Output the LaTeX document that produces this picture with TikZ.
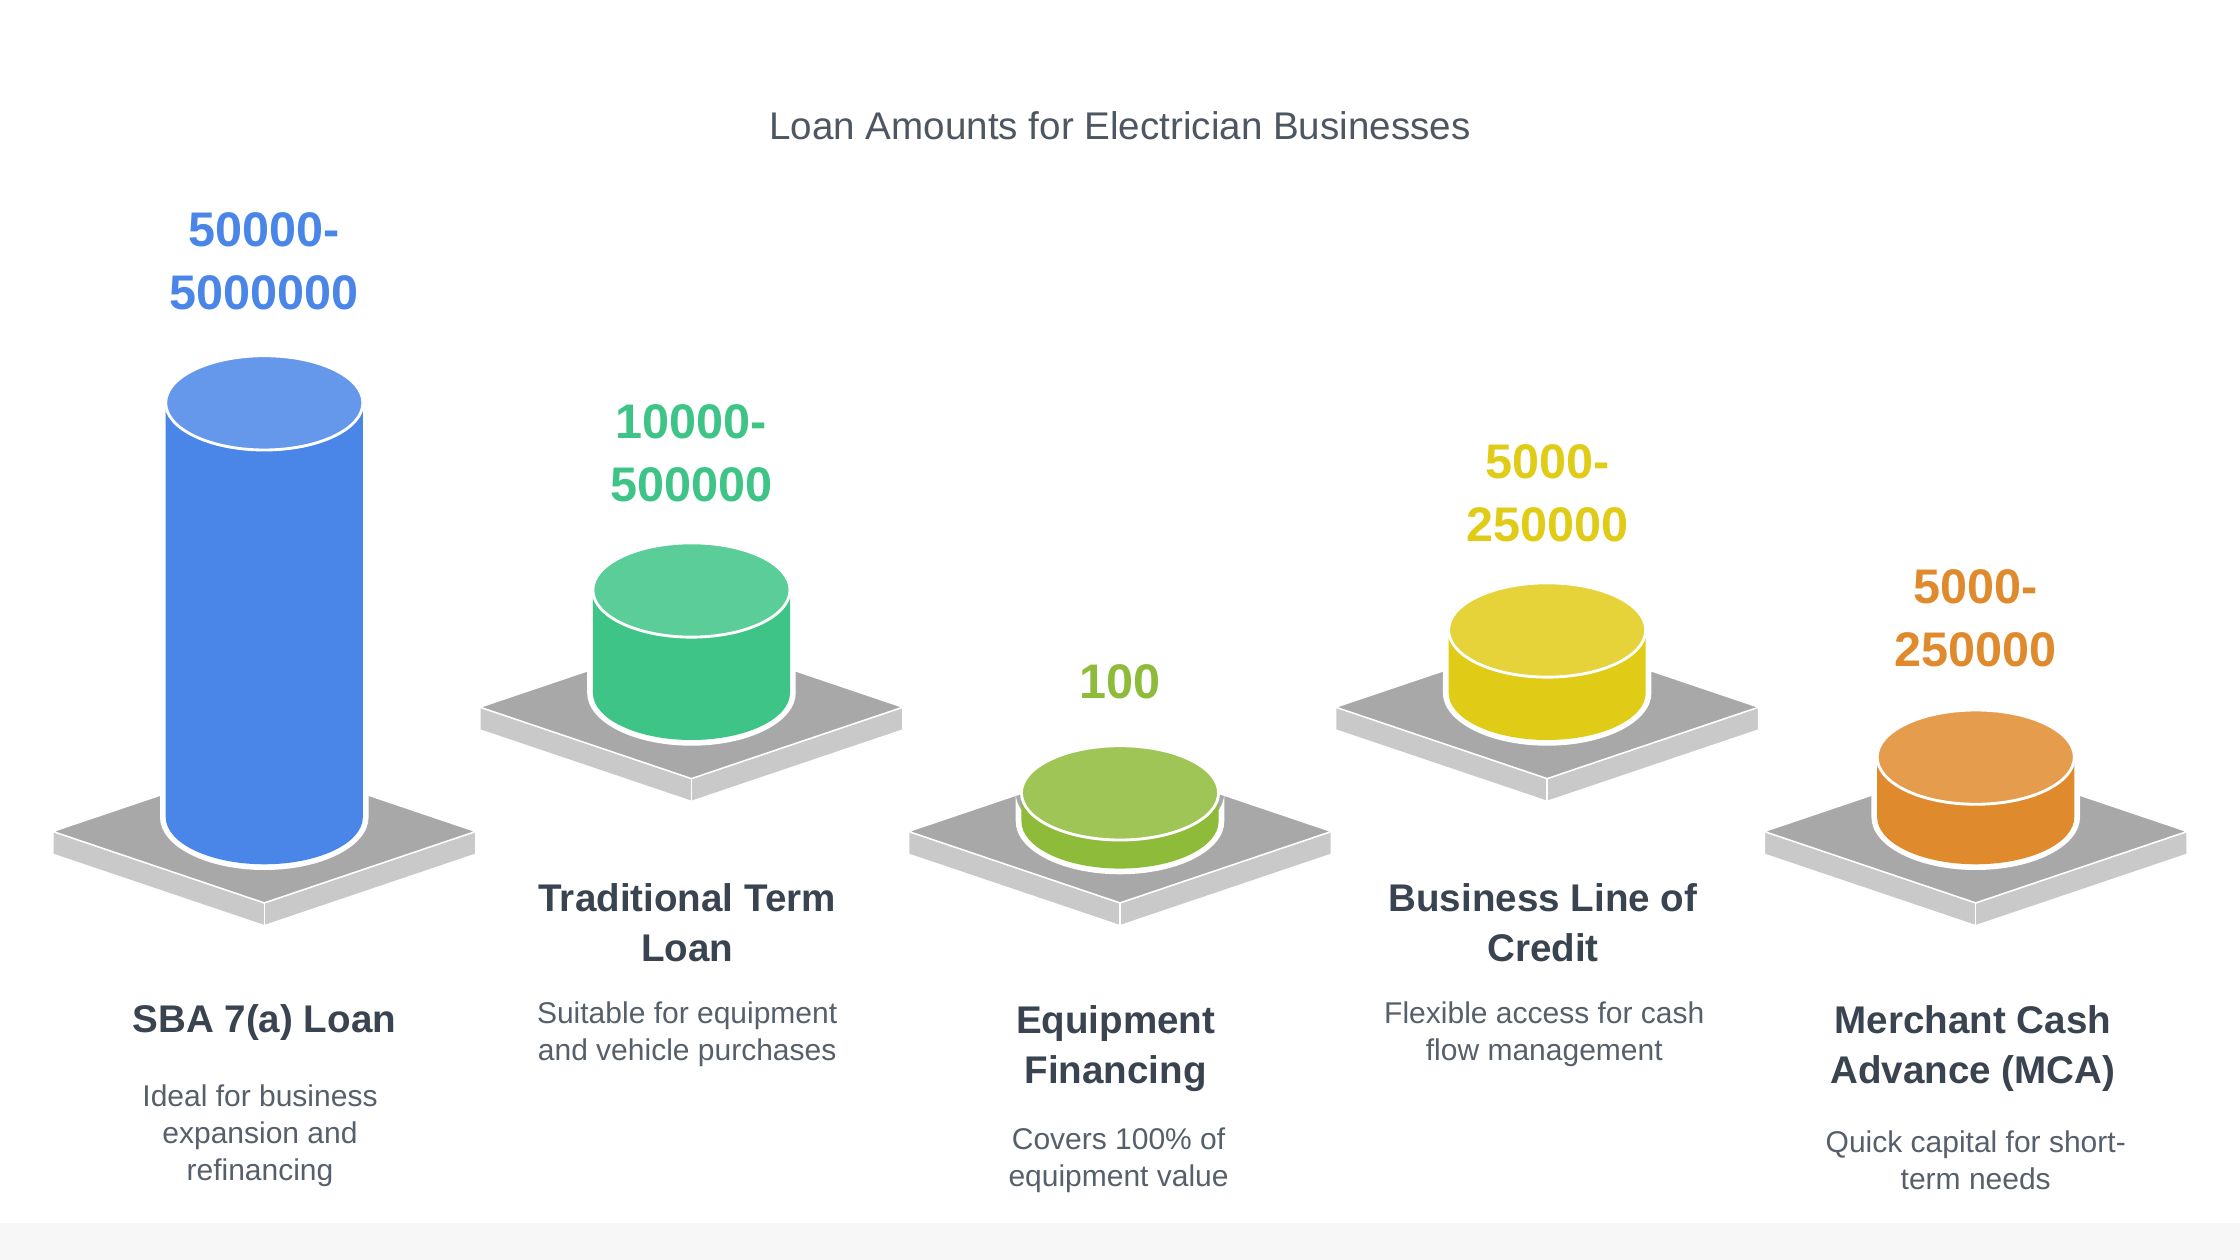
\documentclass[tikz,border=0pt]{standalone}
\usepackage{fontspec}
\setmainfont{Liberation Sans}
\definecolor{cblue}{HTML}{4A86E8}
\definecolor{cgreen}{HTML}{3DC486}
\definecolor{clime}{HTML}{8FBB3A}
\definecolor{cyellow}{HTML}{E0CB16}
\definecolor{corange}{HTML}{E08A2E}
\definecolor{dark}{HTML}{3A4450}
\definecolor{slabtop}{HTML}{A8A8A8}
\definecolor{slabside}{HTML}{C9C9C9}
\newcommand\pedestal[2]{%
 \fill[slabside,draw=white,line width=1pt] (#1-148,#2)--(#1,#2+50)--(#1+148,#2)--(#1+148,#2+16)--(#1,#2+66)--(#1-148,#2+16)--cycle;
 \draw[white,line width=1pt] (#1,#2+50)--(#1,#2+66);
 \fill[slabtop,draw=white,line width=1pt] (#1-148,#2)--(#1,#2-50)--(#1+148,#2)--(#1,#2+50)--cycle;}
\newcommand\cyl[4]{%
 \fill[white] (#1-73,#2)--(#1-73,#3) arc[start angle=180,end angle=0,x radius=73,y radius=37]--(#1+73,#2) arc[start angle=0,end angle=180,x radius=73,y radius=37]--cycle;
 \fill[#4] (#1-69,#2)--(#1-69,#3) arc[start angle=180,end angle=0,x radius=69,y radius=33]--(#1+69,#2)--cycle;
 \fill[#4!85!white,draw=white,line width=2pt] (#1,#2) ellipse[x radius=69,y radius=33];}
\tikzset{val/.style={font=\fontsize{34}{44}\selectfont\bfseries,align=center},
 lab/.style={font=\fontsize{27}{35}\selectfont\bfseries,text=dark,align=center},
 desc/.style={font=\fontsize{21}{26}\selectfont,text=dark!85,align=center}}
\begin{document}
\begin{tikzpicture}[x=1pt,y=-1pt]
\useasboundingbox (0,0) rectangle (1568,882);
\fill[white] (0,0) rectangle (1568,882);
\fill[gray!6] (0,856) rectangle (1568,882);
\node[font=\fontsize{27}{32}\selectfont,text=dark!90] (title) at (784,88) {Loan Amounts for Electrician Businesses};
\pedestal{185}{582}\cyl{185}{282}{572}{cblue}
\pedestal{484}{495}\cyl{484}{413}{485}{cgreen}
\pedestal{784}{582}\cyl{784}{555}{575}{clime}
\pedestal{1083}{495}\cyl{1083}{441}{485}{cyellow}
\pedestal{1383}{582}\cyl{1383}{530}{572}{corange}
\node[val,text=cblue] (v1) at (185,183) {50000-\\5000000};
\node[val,text=cgreen] (v2) at (484,317) {10000-\\500000};
\node[val,text=clime] (v3) at (784,477) {100};
\node[val,text=cyellow] (v4) at (1083,345) {5000-\\250000};
\node[val,text=corange] (v5) at (1383,433) {5000-\\250000};
\node[lab] (l1) at (185,716) {SBA 7(a) Loan};
\node[desc] (d1) at (182,795) {Ideal for business\\expansion and\\refinancing};
\node[lab] (l2) at (481,646) {Traditional Term\\Loan};
\node[desc] (d2) at (481,724) {Suitable for equipment\\and vehicle purchases};
\node[lab] (l3) at (781,734) {Equipment\\Financing};
\node[desc] (d3) at (783,812) {Covers 100\% of\\equipment value};
\node[lab] (l4) at (1080,646) {Business Line of\\Credit};
\node[desc] (d4) at (1081,724) {Flexible access for cash\\flow management};
\node[lab] (l5) at (1381,734) {Merchant Cash\\Advance (MCA)};
\node[desc] (d5) at (1383,812) {Quick capital for short-\\term needs};
\end{tikzpicture}
\end{document}
